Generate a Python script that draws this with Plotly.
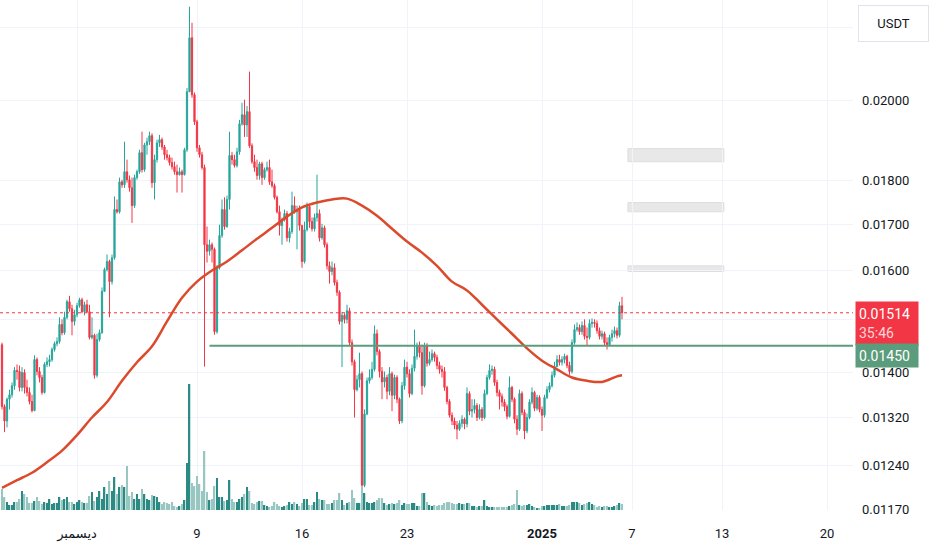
import numpy as np
import pandas as pd
import plotly.graph_objects as go

# 4h candles, prices in USDT
start = "2024-11-26 00:00"
first_open = 0.01452

closes = [
    0.01339, 0.01314, 0.01352, 0.01360, 0.01376, 0.01404, 0.01402, 0.01373, 0.01400, 0.01373,
    0.01364, 0.01348, 0.01332, 0.01424, 0.01402, 0.01391, 0.01364, 0.01415, 0.01420, 0.01424,
    0.01443, 0.01454, 0.01458, 0.01491, 0.01475, 0.01505, 0.01536, 0.01522, 0.01497, 0.01510,
    0.01528, 0.01540, 0.01516, 0.01530, 0.01516, 0.01466, 0.01470, 0.01395, 0.01462, 0.01475,
    0.01557, 0.01602, 0.01619, 0.01577, 0.01627, 0.01733, 0.01728, 0.01797, 0.01790, 0.01821,
    0.01802, 0.01783, 0.01742, 0.01807, 0.01821, 0.01867, 0.01826, 0.01886, 0.01894, 0.01909,
    0.01795, 0.01850, 0.01891, 0.01899, 0.01881, 0.01862, 0.01855, 0.01843, 0.01833, 0.01821,
    0.01814, 0.01821, 0.01814, 0.01874, 0.02022, 0.02170, 0.02014, 0.01944, 0.01879, 0.01862,
    0.01831, 0.01655, 0.01641, 0.01655, 0.01645, 0.01477, 0.01606, 0.01675, 0.01733, 0.01695,
    0.01756, 0.01860, 0.01850, 0.01836, 0.01869, 0.01939, 0.01962, 0.01936, 0.01970, 0.01884,
    0.01845, 0.01831, 0.01812, 0.01840, 0.01807, 0.01826, 0.01831, 0.01797, 0.01788, 0.01761,
    0.01728, 0.01697, 0.01710, 0.01724, 0.01670, 0.01684, 0.01742, 0.01728, 0.01733, 0.01697,
    0.01619, 0.01688, 0.01740, 0.01706, 0.01690, 0.01715, 0.01724, 0.01670, 0.01692, 0.01655,
    0.01610, 0.01598, 0.01606, 0.01575, 0.01555, 0.01497, 0.01509, 0.01501, 0.01518, 0.01456,
    0.01420, 0.01369, 0.01387, 0.01398, 0.01208, 0.01326, 0.01385, 0.01391, 0.01406, 0.01473,
    0.01439, 0.01402, 0.01383, 0.01391, 0.01366, 0.01398, 0.01359, 0.01391, 0.01352, 0.01314,
    0.01376, 0.01410, 0.01398, 0.01362, 0.01408, 0.01430, 0.01451, 0.01437, 0.01376, 0.01451,
    0.01417, 0.01424, 0.01435, 0.01428, 0.01413, 0.01406, 0.01402, 0.01373, 0.01348, 0.01324,
    0.01314, 0.01307, 0.01300, 0.01310, 0.01317, 0.01309, 0.01362, 0.01331, 0.01334, 0.01341,
    0.01320, 0.01334, 0.01320, 0.01362, 0.01391, 0.01404, 0.01406, 0.01382, 0.01364, 0.01357,
    0.01347, 0.01339, 0.01322, 0.01373, 0.01352, 0.01317, 0.01300, 0.01362, 0.01329, 0.01297,
    0.01320, 0.01347, 0.01364, 0.01336, 0.01355, 0.01334, 0.01324, 0.01355, 0.01369, 0.01376,
    0.01395, 0.01411, 0.01424, 0.01419, 0.01424, 0.01430, 0.01413, 0.01402, 0.01456, 0.01481,
    0.01485, 0.01477, 0.01489, 0.01468, 0.01466, 0.01493, 0.01495, 0.01493, 0.01479, 0.01468,
    0.01473, 0.01456, 0.01452, 0.01466, 0.01473, 0.01479, 0.01470, 0.01528, 0.01514,
]

highs = [
    0.01456, 0.01343, 0.01355, 0.01369, 0.01382, 0.01410, 0.01415, 0.01413, 0.01410, 0.01406,
    0.01387, 0.01373, 0.01360, 0.01432, 0.01428, 0.01410, 0.01396, 0.01419, 0.01428, 0.01433,
    0.01447, 0.01458, 0.01466, 0.01505, 0.01501, 0.01516, 0.01540, 0.01548, 0.01530, 0.01520,
    0.01534, 0.01544, 0.01544, 0.01536, 0.01540, 0.01530, 0.01505, 0.01473, 0.01473, 0.01481,
    0.01565, 0.01606, 0.01634, 0.01623, 0.01634, 0.01763, 0.01756, 0.01807, 0.01802, 0.01894,
    0.01850, 0.01812, 0.01807, 0.01814, 0.01826, 0.01874, 0.01919, 0.01891, 0.01904, 0.01919,
    0.01915, 0.01862, 0.01899, 0.01911, 0.01904, 0.01886, 0.01874, 0.01862, 0.01855, 0.01845,
    0.01838, 0.01831, 0.01826, 0.01879, 0.02032, 0.02260, 0.02213, 0.02020, 0.01949, 0.01886,
    0.01869, 0.01838, 0.01695, 0.01666, 0.01660, 0.01649, 0.01612, 0.01699, 0.01756, 0.01761,
    0.01765, 0.01919, 0.01869, 0.01862, 0.01879, 0.01949, 0.01993, 0.02001, 0.01985, 0.02076,
    0.01890, 0.01862, 0.01850, 0.01845, 0.01845, 0.01831, 0.01845, 0.01850, 0.01826, 0.01793,
    0.01765, 0.01742, 0.01715, 0.01733, 0.01730, 0.01692, 0.01774, 0.01763, 0.01742, 0.01742,
    0.01699, 0.01706, 0.01749, 0.01745, 0.01715, 0.01724, 0.01814, 0.01733, 0.01701, 0.01697,
    0.01660, 0.01619, 0.01619, 0.01615, 0.01581, 0.01559, 0.01516, 0.01513, 0.01530, 0.01524,
    0.01462, 0.01424, 0.01395, 0.01437, 0.01402, 0.01334, 0.01391, 0.01406, 0.01420, 0.01489,
    0.01481, 0.01443, 0.01410, 0.01402, 0.01396, 0.01410, 0.01402, 0.01396, 0.01395, 0.01355,
    0.01383, 0.01424, 0.01420, 0.01406, 0.01415, 0.01481, 0.01456, 0.01458, 0.01452, 0.01456,
    0.01455, 0.01439, 0.01443, 0.01439, 0.01433, 0.01420, 0.01413, 0.01410, 0.01376, 0.01352,
    0.01329, 0.01320, 0.01314, 0.01315, 0.01324, 0.01320, 0.01373, 0.01366, 0.01352, 0.01352,
    0.01345, 0.01343, 0.01338, 0.01369, 0.01396, 0.01415, 0.01413, 0.01411, 0.01387, 0.01369,
    0.01362, 0.01352, 0.01343, 0.01393, 0.01376, 0.01355, 0.01324, 0.01369, 0.01366, 0.01334,
    0.01327, 0.01352, 0.01373, 0.01367, 0.01360, 0.01359, 0.01339, 0.01360, 0.01375, 0.01382,
    0.01402, 0.01420, 0.01432, 0.01433, 0.01430, 0.01435, 0.01433, 0.01420, 0.01462, 0.01491,
    0.01495, 0.01491, 0.01497, 0.01501, 0.01485, 0.01501, 0.01503, 0.01501, 0.01499, 0.01485,
    0.01479, 0.01477, 0.01466, 0.01471, 0.01481, 0.01487, 0.01485, 0.01536, 0.01546,
]

lows = [
    0.01334, 0.01295, 0.01303, 0.01334, 0.01355, 0.01369, 0.01387, 0.01366, 0.01366, 0.01362,
    0.01357, 0.01343, 0.01329, 0.01331, 0.01395, 0.01382, 0.01360, 0.01362, 0.01410, 0.01411,
    0.01420, 0.01439, 0.01449, 0.01454, 0.01470, 0.01471, 0.01501, 0.01516, 0.01470, 0.01489,
    0.01505, 0.01524, 0.01513, 0.01509, 0.01513, 0.01462, 0.01462, 0.01389, 0.01391, 0.01458,
    0.01473, 0.01557, 0.01598, 0.01505, 0.01571, 0.01623, 0.01724, 0.01724, 0.01783, 0.01783,
    0.01795, 0.01774, 0.01703, 0.01737, 0.01802, 0.01816, 0.01819, 0.01821, 0.01862, 0.01886,
    0.01783, 0.01756, 0.01843, 0.01881, 0.01874, 0.01850, 0.01848, 0.01836, 0.01826, 0.01814,
    0.01772, 0.01812, 0.01772, 0.01812, 0.01869, 0.02022, 0.02006, 0.01936, 0.01869, 0.01855,
    0.01826, 0.01411, 0.01617, 0.01632, 0.01617, 0.01471, 0.01473, 0.01602, 0.01670, 0.01688,
    0.01692, 0.01733, 0.01838, 0.01831, 0.01831, 0.01862, 0.01934, 0.01906, 0.01906, 0.01879,
    0.01840, 0.01821, 0.01802, 0.01802, 0.01790, 0.01802, 0.01821, 0.01790, 0.01783, 0.01756,
    0.01724, 0.01675, 0.01655, 0.01706, 0.01662, 0.01660, 0.01679, 0.01724, 0.01645, 0.01686,
    0.01606, 0.01615, 0.01684, 0.01692, 0.01684, 0.01684, 0.01706, 0.01662, 0.01666, 0.01649,
    0.01602, 0.01573, 0.01590, 0.01569, 0.01548, 0.01491, 0.01410, 0.01493, 0.01493, 0.01450,
    0.01413, 0.01320, 0.01366, 0.01373, 0.01202, 0.01205, 0.01324, 0.01380, 0.01387, 0.01402,
    0.01432, 0.01391, 0.01352, 0.01373, 0.01352, 0.01359, 0.01331, 0.01352, 0.01345, 0.01309,
    0.01310, 0.01369, 0.01391, 0.01355, 0.01359, 0.01402, 0.01424, 0.01428, 0.01360, 0.01373,
    0.01411, 0.01413, 0.01420, 0.01420, 0.01406, 0.01398, 0.01391, 0.01367, 0.01343, 0.01320,
    0.01307, 0.01300, 0.01283, 0.01297, 0.01303, 0.01300, 0.01303, 0.01324, 0.01320, 0.01327,
    0.01314, 0.01317, 0.01314, 0.01317, 0.01359, 0.01387, 0.01396, 0.01376, 0.01357, 0.01334,
    0.01339, 0.01331, 0.01317, 0.01320, 0.01347, 0.01310, 0.01290, 0.01297, 0.01324, 0.01283,
    0.01293, 0.01317, 0.01343, 0.01331, 0.01332, 0.01329, 0.01297, 0.01320, 0.01352, 0.01364,
    0.01373, 0.01391, 0.01410, 0.01413, 0.01413, 0.01417, 0.01408, 0.01396, 0.01398, 0.01452,
    0.01477, 0.01471, 0.01471, 0.01462, 0.01450, 0.01462, 0.01485, 0.01485, 0.01473, 0.01462,
    0.01462, 0.01450, 0.01443, 0.01450, 0.01458, 0.01466, 0.01464, 0.01466, 0.01501,
]

# volume, millions
volumes = [
    21, 13, 8, 5, 5, 8, 8, 11, 19, 16, 13, 7, 7, 9, 13, 9, 6, 8, 7, 11,
    6, 7, 7, 13, 10, 11, 13, 8, 8, 6, 8, 10, 8, 7, 7, 14, 18, 9, 13, 19,
    11, 23, 16, 29, 19, 33, 16, 23, 25, 23, 44, 14, 18, 11, 16, 11, 21, 16, 11, 10,
    15, 14, 13, 8, 6, 8, 7, 6, 8, 4, 3, 4, 6, 10, 47, 126, 27, 24, 34, 26,
    19, 59, 18, 10, 11, 24, 32, 13, 13, 9, 10, 30, 11, 8, 8, 11, 13, 16, 23, 19,
    7, 6, 8, 9, 9, 5, 4, 3, 4, 8, 6, 4, 3, 4, 5, 8, 6, 8, 6, 4,
    7, 11, 11, 5, 5, 8, 18, 11,
    10, 10, 6, 6, 7, 10, 10, 17, 10, 5, 7, 8, 20, 12, 7, 7, 23, 17, 8, 7,
    7, 8, 10, 12, 12, 7, 5, 6, 7, 6, 7, 10, 5, 7, 6, 6, 7, 7, 4, 4,
    17, 17, 8, 5, 4, 5, 4, 5, 5, 7, 8, 8, 7, 6, 6, 7, 6, 6, 7, 7,
    4, 4, 3, 4, 4, 10, 4, 3, 3, 3, 3, 3, 3, 3, 3, 4, 5, 6, 20, 5,
    4, 5, 5, 6, 4, 3, 2, 2, 4, 4, 5, 5, 5, 5, 5, 6, 4, 4, 4, 5,
    8, 8, 8, 7, 5, 6, 7, 8, 6, 5, 3, 4, 3, 4, 4, 3, 3, 4, 5, 7, 6,
]

# moving average, read once a day
ma_dates = list(pd.date_range("2024-11-26", periods=42, freq="D")) + [pd.Timestamp("2025-01-06 08:00")]
ma_values = [
    0.01204, 0.01216, 0.01228, 0.01245, 0.01264, 0.01290, 0.01320, 0.01347, 0.01385, 0.01419,
    0.01449, 0.01497, 0.01544, 0.01577, 0.01600, 0.01619, 0.01643, 0.01668, 0.01692, 0.01717,
    0.01738, 0.01749, 0.01756, 0.01758, 0.01742, 0.01719, 0.01690, 0.01662, 0.01638, 0.01610,
    0.01577, 0.01559, 0.01530, 0.01501, 0.01473, 0.01445, 0.01422, 0.01406, 0.01391, 0.01385,
    0.01383, 0.01393, 0.01395,
]

level = 0.01450
level_from = "2024-12-09 20:00"
zone_from = "2025-01-06 17:30"
zone_to = "2025-01-13 03:00"
zone_low = [0.01845, 0.01728, 0.01598]
zone_high = [0.01877, 0.01749, 0.01610]

x_ticks = ["2024-12-01", "2024-12-09", "2024-12-16", "2024-12-23",
           "2025-01-01", "2025-01-07", "2025-01-13", "2025-01-20"]
x_labels = ["ديسمبر", "9", "16", "23", "<b>2025</b>", "7", "13", "20"]
y_ticks = [0.0117, 0.0124, 0.0132, 0.014, 0.015, 0.016, 0.017, 0.018, 0.020, 0.022]
# 0.015 and 0.022 sit under the price label and the USDT button
y_hidden = [0.015, 0.022]

x_range = ["2024-11-25 20:48", "2025-01-21 17:36"]
y_range = [0.011695, 0.0228]

times = pd.date_range(start, periods=len(closes), freq="4h")
opens = [first_open] + closes[:-1]
vol_colors = ["#2b8a83" if c >= o else "#98c7c1" for o, c in zip(opens, closes)]

fig = go.Figure()

fig.add_trace(go.Bar(x=times, y=volumes, marker_color=vol_colors,
                     marker_line_width=0, yaxis="y2", hoverinfo="skip"))

fig.add_trace(go.Candlestick(
    x=times, open=opens, high=highs, low=lows, close=closes,
    increasing=dict(line=dict(color="#26a69a", width=1), fillcolor="#26a69a"),
    decreasing=dict(line=dict(color="#f23645", width=1), fillcolor="#f23645"),
    whiskerwidth=0,
))

fig.add_trace(go.Scatter(x=ma_dates, y=ma_values, mode="lines",
                         line=dict(color="#dc4a2c", width=2.5, shape="spline")))

# gray zones
for lo, hi in zip(zone_low, zone_high):
    fig.add_shape(type="rect", xref="x", yref="y", x0=zone_from, x1=zone_to, y0=lo, y1=hi,
                  fillcolor="rgba(210,210,210,0.5)", line=dict(color="#dedede", width=1), layer="below")

# horizontal level and last price line
fig.add_shape(type="line", xref="x", yref="y", x0=level_from, x1=x_range[1], y0=level, y1=level,
              line=dict(color="#5b9c7c", width=2))
fig.add_shape(type="line", xref="paper", yref="y", x0=0, x1=1, y0=closes[-1], y1=closes[-1],
              line=dict(color="#f23645", width=1, dash="dot"))

fig.update_layout(
    width=932, height=550,
    margin=dict(l=0, r=79, t=0, b=40),
    paper_bgcolor="white", plot_bgcolor="white",
    showlegend=False, bargap=0.4,
    font=dict(family="Roboto, DejaVu Sans, sans-serif", size=13, color="#131722"),
    xaxis=dict(type="date", range=x_range, tickvals=x_ticks, ticktext=x_labels,
               showgrid=True, gridcolor="#f0f3fa", zeroline=False, showline=False,
               ticks="", rangeslider=dict(visible=False), ticklabelstandoff=14),
    yaxis=dict(type="log", side="right", range=[np.log10(y_range[0]), np.log10(y_range[1])],
               tickvals=y_ticks,
               ticktext=["" if v in y_hidden else f"{v:.5f}" for v in y_ticks],
               showgrid=True, gridcolor="#f0f3fa", zeroline=False, showline=False,
               ticks="", ticklabelstandoff=8),
    yaxis2=dict(overlaying="y", range=[0, 510], visible=False),
)

# price labels on the scale
fig.add_annotation(xref="paper", x=1, xanchor="left", xshift=2,
                   yref="y", y=np.log10(closes[-1]), yanchor="top", yshift=12,
                   text="0.01514<br><span style='color:rgba(255,255,255,0.8)'>35:46</span>",
                   showarrow=False, bgcolor="#f23645", font=dict(color="white", size=14),
                   align="left", width=56, height=37, borderpad=3)
fig.add_annotation(xref="paper", x=1, xanchor="left", xshift=2,
                   yref="y", y=np.log10(level), yanchor="top", yshift=3,
                   text="0.01450", showarrow=False, bgcolor="#5b9c7c",
                   font=dict(color="white", size=14), align="left", width=56, height=17, borderpad=3)
fig.add_annotation(xref="paper", x=1, xanchor="left", xshift=5,
                   yref="paper", y=1, yanchor="top", yshift=-5,
                   text="USDT", showarrow=False, bgcolor="white", bordercolor="#e0e3eb",
                   borderwidth=1, width=67, height=33, font=dict(size=13))

fig.write_html("out.html", config={"displayModeBar": False},
               post_script="document.body.style.margin='0';document.body.style.overflow='hidden';")
